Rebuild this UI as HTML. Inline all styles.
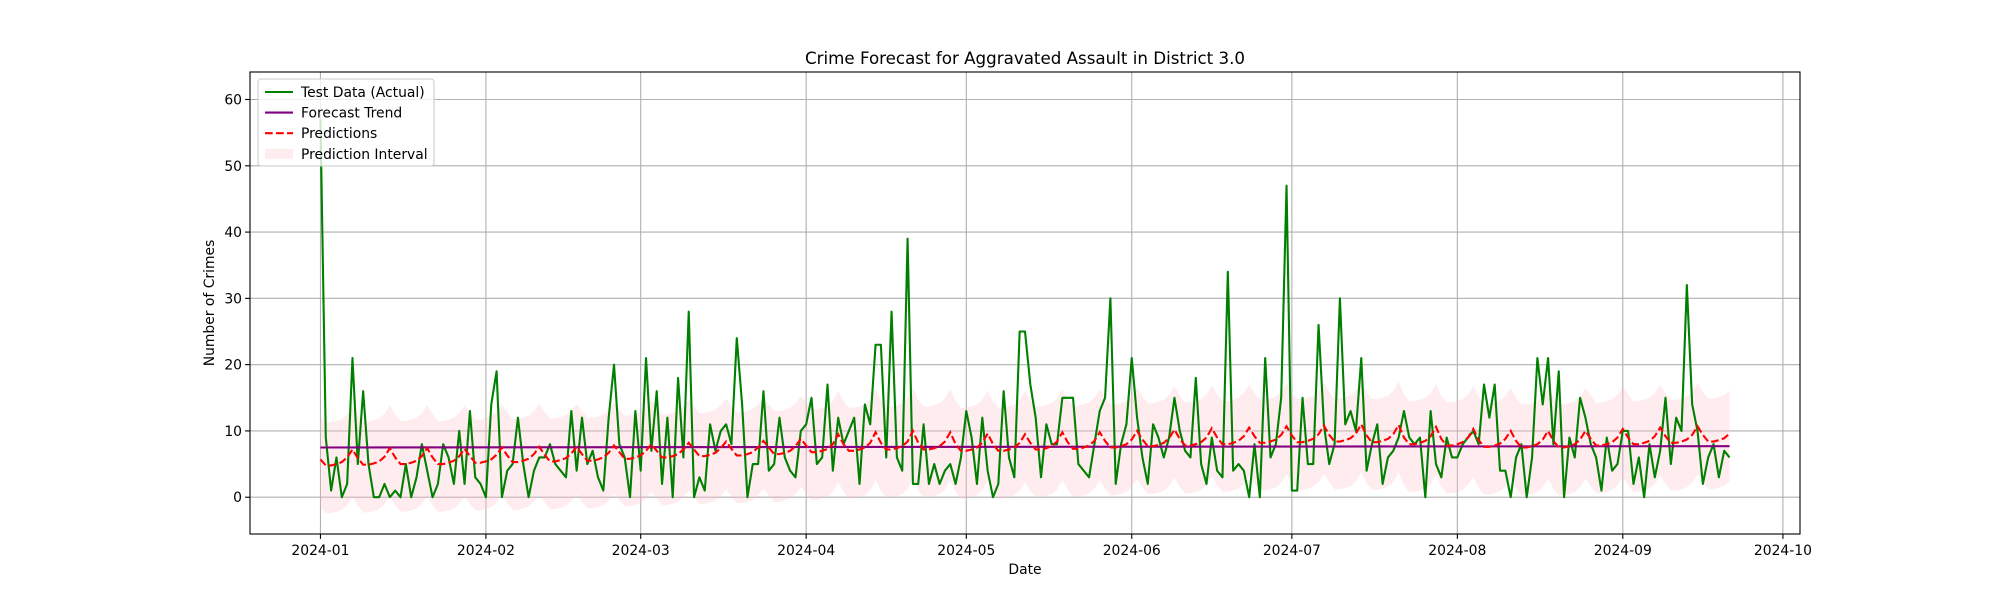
<!DOCTYPE html>
<html><head><meta charset="utf-8"><style>
html,body{margin:0;padding:0;background:#fff;}
svg{display:block;font-family:"DejaVu Sans","Liberation Sans",sans-serif;}
</style></head><body>
<svg id="chart" width="2000" height="600" viewBox="0 0 2000 600" xmlns="http://www.w3.org/2000/svg"></svg>
<script>
const monthTicks = [0,31,60,91,121,152,182,213,244,274];
const monthLabels = ["2024-01","2024-02","2024-03","2024-04","2024-05","2024-06","2024-07","2024-08","2024-09","2024-10"];
const yTicks = [0,10,20,30,40,50,60];
const actual = [57,9,1,6,0,2,21,5,16,5,0,0,2,0,1,0,5,0,3,8,4,0,2,8,6,2,10,2,13,3,2,0,14,19,0,4,5,12,5,0,4,6,6,8,5,4,3,13,4,12,5,7,3,1,12,
20,8,6,0,13,4,21,7,16,2,12,0,18,6,28,0,3,1,11,7,10,11,8,24,14,0,5,5,16,4,5,12,6,4,3,10,11,15,5,6,17,4,12,8,10,12,2,14,11,23,23,6,28,6,
4,39,2,2,11,2,5,2,4,5,2,6,13,9,2,12,4,0,2,16,6,3,25,25,17,12,3,11,8,8,15,15,15,5,4,3,8,13,15,30,2,8,11,21,12,6,2,11,9,6,9,15,10,7,
6,18,5,2,9,4,3,34,4,5,4,0,8,0,21,6,8,15,47,1,1,15,5,5,26,11,5,8,30,11,13,10,21,4,8,11,2,6,7,9,13,9,8,9,0,13,5,3,9,6,6,8,9,10,
8,17,12,17,4,4,0,6,8,0,6,21,14,21,8,19,0,9,6,15,12,8,6,1,9,4,5,10,10,2,6,0,8,3,7,15,5,12,10,32,14,10,2,6,8,3,7,6];
const predictions = [
5.7,4.8,4.8,5.0,5.3,6.0,7.2, 5.9,4.9,4.9,5.1,5.4,6.1,7.4, 6.0,5.0,5.0,5.2,5.5,6.2,7.4, 6.0,5.0,5.0,5.2,5.5,6.2,7.3,
6.2,5.2,5.2,5.4,5.7,6.4,7.5, 6.3,5.3,5.3,5.5,5.8,6.5,7.6, 6.4,5.4,5.4,5.6,5.9,6.6,7.6, 6.5,5.5,5.5,5.7,6.0,6.7,7.8,
6.8,5.8,5.8,6.0,6.3,7.0,8.0, 7.0,6.0,6.0,6.2,6.5,7.2,8.2, 7.2,6.2,6.2,6.4,6.7,7.4,8.4, 7.3,6.3,6.3,6.5,6.8,7.5,8.5,
7.5,6.5,6.5,6.7,7.0,7.7,8.8, 7.8,6.8,6.8,7.0,7.3,8.0,9.5, 8.0,7.0,7.0,7.2,7.5,8.2,9.8, 8.2,7.2,7.2,7.4,7.7,8.4,10.0,
8.2,7.2,7.2,7.4,7.7,8.4,9.8, 8.0,7.0,7.0,7.2,7.5,8.2,9.6, 8.0,7.0,7.0,7.2,7.5,8.2,9.5, 8.2,7.2,7.2,7.4,7.7,8.4,9.8,
8.3,7.3,7.3,7.5,7.8,8.5,9.8, 8.5,7.5,7.5,7.7,8.0,8.7,10.0, 8.7,7.7,7.7,7.9,8.2,8.9,10.2, 8.8,7.8,7.8,8.0,8.3,9.0,10.4,
9.0,8.0,8.0,8.2,8.5,9.2,10.5, 9.2,8.2,8.2,8.4,8.7,9.4,10.7, 9.3,8.3,8.3,8.5,8.8,9.5,10.8, 9.4,8.4,8.4,8.6,8.9,9.6,11.0,
9.3,8.3,8.3,8.5,8.8,9.5,10.9, 9.0,8.0,8.0,8.2,8.5,9.2,10.6, 8.8,7.8,7.8,8.0,8.3,9.0,10.3, 8.6,7.6,7.6,7.8,8.1,8.8,10.0,
8.5,7.5,7.5,7.7,8.0,8.7,10.0, 8.5,7.5,7.5,7.7,8.0,8.7,10.0, 8.8,7.8,7.8,8.0,8.3,9.0,10.3, 9.0,8.0,8.0,8.2,8.5,9.2,10.5,
9.2,8.2,8.2,8.4,8.7,9.4,10.7, 9.4,8.4,8.4,8.6,8.9,9.6];
const trendStart = 7.5;
const trendEnd = 7.7;
const intervalUp = 6.5;
const intervalDown = 7.2;

const NS = "http://www.w3.org/2000/svg";
const svg = document.getElementById("chart");
const L=250,R=1800,T=72,B=534;
const xMin=-13.2,xMax=277.2,yMin=-5.55,yMax=64.15;
const X = d => L + (d - xMin) / (xMax - xMin) * (R - L);
const Y = v => B - (v - yMin) / (yMax - yMin) * (B - T);
function el(tag, attrs, parent){ const e=document.createElementNS(NS,tag); for(const k in attrs) e.setAttribute(k,attrs[k]); (parent||svg).appendChild(e); return e; }

const grid = el("g",{});


monthTicks.forEach(d=>el("line",{x1:X(d),x2:X(d),y1:T,y2:B,stroke:"#b0b0b0","stroke-width":1.1},grid));
yTicks.forEach(v=>el("line",{x1:L,x2:R,y1:Y(v),y2:Y(v),stroke:"#b0b0b0","stroke-width":1.1},grid));

const topPts=[], botPts=[];
predictions.forEach((p,i)=>{topPts.push(X(i)+","+Y(p+intervalUp)); botPts.unshift(X(i)+","+Y(p-intervalDown));});
const band = el("polygon",{points:topPts.concat(botPts).join(" "),fill:"#ffc0cb","fill-opacity":0.3,stroke:"none"});



const act = el("polyline",{points:actual.map((v,i)=>X(i)+","+Y(v)).join(" "),fill:"none",stroke:"#008000","stroke-width":2.1,"stroke-linejoin":"round"});



const tr = el("line",{x1:X(0),x2:X(actual.length-1),y1:Y(trendStart),y2:Y(trendEnd),stroke:"#800080","stroke-width":2.1});



const pr = el("polyline",{points:predictions.map((v,i)=>X(i)+","+Y(v)).join(" "),fill:"none",stroke:"#ff0000","stroke-width":2.1,"stroke-dasharray":"7.7,3.3"});



const frame = el("rect",{x:L,y:T,width:R-L,height:B-T,fill:"none",stroke:"#000","stroke-width":1.1});



monthTicks.forEach((d,i)=>{
  el("line",{x1:X(d),x2:X(d),y1:B,y2:B+4.9,stroke:"#000","stroke-width":1.1});
  const t = el("text",{x:X(d),y:B+21,"text-anchor":"middle","font-size":13.9,fill:"#000"});
  t.textContent = monthLabels[i];
  
  
});
yTicks.forEach(v=>{
  el("line",{x1:L-4.9,x2:L,y1:Y(v),y2:Y(v),stroke:"#000","stroke-width":1.1});
  const t = el("text",{x:L-8,y:Y(v)+5,"text-anchor":"end","font-size":13.9,fill:"#000"});
  t.textContent = v;
  
  
});

const title = el("text",{x:(L+R)/2,y:T-8,"text-anchor":"middle","font-size":16.7,fill:"#000"});
title.textContent = "Crime Forecast for Aggravated Assault in District 3.0";


const xt = el("text",{x:(L+R)/2,y:574,"text-anchor":"middle","font-size":13.9,fill:"#000"});
xt.textContent = "Date";


const yt = el("text",{x:0,y:0,"text-anchor":"middle","font-size":13.9,fill:"#000",transform:`translate(214,${(T+B)/2}) rotate(-90)`});
yt.textContent = "Number of Crimes";



const lg = el("g",{});


el("rect",{x:258,y:79,width:176,height:87,rx:3,fill:"#fff","fill-opacity":0.8,stroke:"#cccccc","stroke-width":1.1},lg);
const entries = [["Test Data (Actual)","line","#008000",""],["Forecast Trend","line","#800080",""],["Predictions","line","#ff0000","7.7,3.3"],["Prediction Interval","patch","#ffc0cb",""]];
entries.forEach((e,i)=>{
  const cy = 92 + i*20.6;
  const g = el("g",{},lg);
  
  
  if(e[1]==="line") el("line",{x1:265,x2:293,y1:cy,y2:cy,stroke:e[2],"stroke-width":2.1,"stroke-dasharray":e[3]||"none"},g);
  else el("rect",{x:265,y:cy-5,width:28,height:10,fill:e[2],"fill-opacity":0.3},g);
  const t = el("text",{x:301,y:cy+5,"font-size":13.9,fill:"#000"},g);
  t.textContent = e[0];
});
</script>
</body></html>
